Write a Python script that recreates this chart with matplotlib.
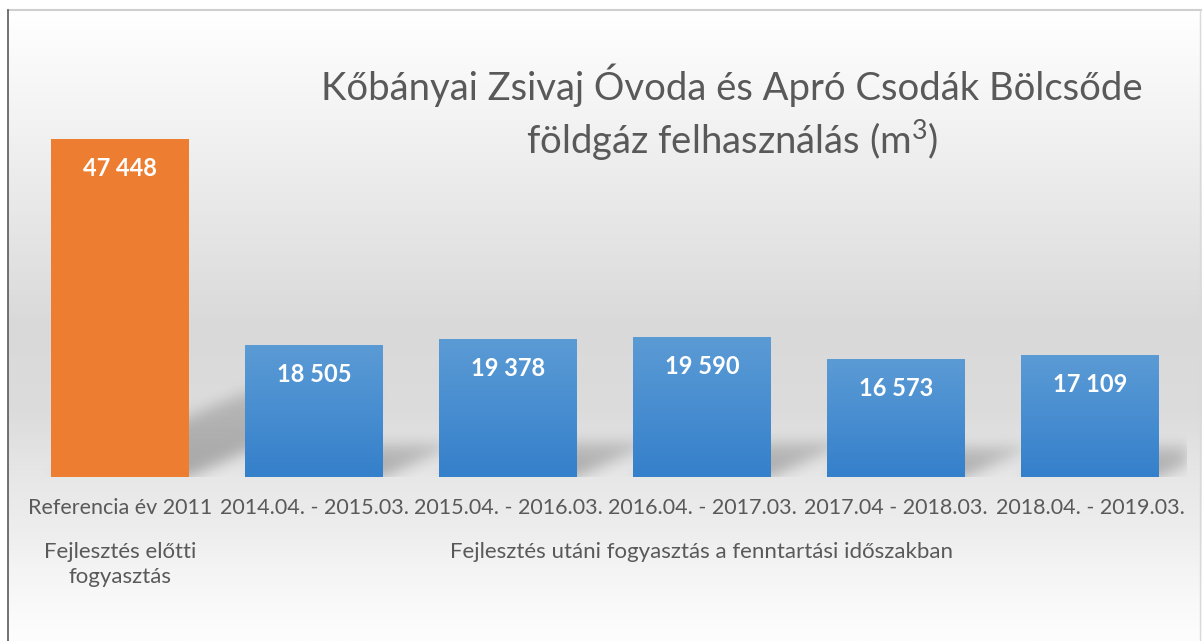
import numpy as np
import matplotlib.pyplot as plt
from matplotlib.colors import LinearSegmentedColormap
from matplotlib.lines import Line2D

plt.rcParams['font.family'] = ['Lato', 'DejaVu Sans']
plt.rcParams['mathtext.fontset'] = 'custom'
plt.rcParams['mathtext.rm'] = 'Lato'

# data
categories = ['Referencia év 2011', '2014.04. - 2015.03.', '2015.04. - 2016.03.',
              '2016.04. - 2017.03.', '2017.04 - 2018.03.', '2018.04. - 2019.03.']
values = [47448, 18505, 19378, 19590, 16573, 17109]
group_labels = ['Fejlesztés előtti\nfogyasztás',
                'Fejlesztés utáni fogyasztás a fenntartási időszakban']
group_members = [[0], [1, 2, 3, 4, 5]]
title = 'Kőbányai Zsivaj Óvoda és Apró Csodák Bölcsőde\nföldgáz felhasználás (m$^{\\mathrm{3}}$)'

orange = '#ed7d31'
blue_top = '#5b9bd5'
blue_bottom = '#3580cb'
text_gray = '#595959'

W, H = 1202, 641
fig = plt.figure(figsize=(W / 100, H / 100), dpi=100)
fig.patch.set_facecolor('white')

# background gradient inside the frame
bg = fig.add_axes([0, 0, 1, 1], zorder=-10)
bg.set_xlim(0, W)
bg.set_ylim(H, 0)
bg.axis('off')
stops = [(0.0, '#ffffff'), (0.17, '#f3f3f3'), (0.38, '#e3e3e3'), (0.5, '#d9d9d9'),
         (0.64, '#dcdcdc'), (0.74, '#e7e7e7'), (0.82, '#ededed'), (0.93, '#f8f8f8'), (1.0, '#fdfdfd')]
bg_cmap = LinearSegmentedColormap.from_list('bg', stops)
grad = np.linspace(0, 1, 400).reshape(-1, 1)
bg.imshow(grad, cmap=bg_cmap, extent=[8, W, H, 10], aspect='auto')
bg.add_line(Line2D([8, W], [10, 10], color='#cfcfcf', lw=1.5))
bg.add_line(Line2D([8, 8], [10, H], color='#5a5a5a', lw=1.2))
bg.add_line(Line2D([W - 2, W - 2], [10, H], color='#d9d9d9', lw=1))

# main chart axes
ax = fig.add_axes([23 / W, 164 / H, 1164 / W, 356 / H])
ax.patch.set_alpha(0)
for sp in ax.spines.values():
    sp.set_visible(False)
ax.set_xticks([])
ax.set_yticks([])

x = np.arange(len(values))
width = 0.71
bars = ax.bar(x, values, width=width, color=[orange] + [blue_top] * (len(values) - 1), zorder=3)

ax.set_xlim(-0.5, len(values) - 0.5)
ax.set_ylim(0, 50000)

# perspective shadows behind the bars
nx, ny = 1164, 356
gx = np.linspace(-0.5, len(values) - 0.5, nx)
gy = np.linspace(0, 50000, ny)
XX, YY = np.meshgrid(gx, gy)
mask = np.zeros_like(XX)
for rect in bars:
    xl = rect.get_x()
    xr = xl + rect.get_width()
    h = rect.get_height()
    kh = 0.25 * h
    s = h / 47448.0
    t = YY / kh
    inside = (YY <= kh) & (XX >= xl + s * t) & (XX <= xr + s * t)
    mask = np.maximum(mask, np.where(inside, 1 - 0.45 * t, 0))

sig = 7
k = np.arange(-3 * sig, 3 * sig + 1)
kern = np.exp(-k ** 2 / (2 * sig ** 2))
kern /= kern.sum()
mask = np.apply_along_axis(lambda r: np.convolve(r, kern, mode='same'), 1, mask)
mask = np.apply_along_axis(lambda c: np.convolve(c, kern, mode='same'), 0, mask)
shadow = np.zeros((ny, nx, 4))
shadow[..., 3] = 0.28 * mask
ax.imshow(shadow, extent=[gx[0], gx[-1], 0, 50000], origin='lower', aspect='auto', zorder=1)

# gradient fill of the blue bars
bar_cmap = LinearSegmentedColormap.from_list('bar', [blue_bottom, blue_top])
for rect in bars[1:]:
    xl = rect.get_x()
    ax.imshow(np.linspace(0, 1, 100).reshape(-1, 1), cmap=bar_cmap, origin='lower',
              extent=[xl, xl + rect.get_width(), 0, rect.get_height()], aspect='auto', zorder=4)

ax.set_xlim(-0.5, len(values) - 0.5)
ax.set_ylim(0, 50000)

# value labels
for xi, v in zip(x, values):
    ax.annotate(f'{v:,}'.replace(',', ' '), xy=(xi, v), xytext=(0, -21), textcoords='offset points',
                ha='center', va='center', color='white', fontsize=17, fontweight='bold', zorder=6)

# category labels
for xi, c in zip(x, categories):
    ax.annotate(c, xy=(xi, 0), xycoords=('data', 'axes fraction'), xytext=(0, -22),
                textcoords='offset points', ha='center', va='center', color=text_gray,
                fontsize=15.5, annotation_clip=False)

# group labels
for lab, members in zip(group_labels, group_members):
    ax.annotate(lab, xy=(np.mean(members), 0), xycoords=('data', 'axes fraction'), xytext=(0, -47),
                textcoords='offset points', ha='center', va='top', color=text_gray,
                fontsize=16, linespacing=1.3, annotation_clip=False)

fig.text(732 / W, 1 - 114 / H, title, ha='center', va='center', color=text_gray,
         fontsize=27.5, linespacing=1.3)

fig.savefig('out.png', dpi=100)
